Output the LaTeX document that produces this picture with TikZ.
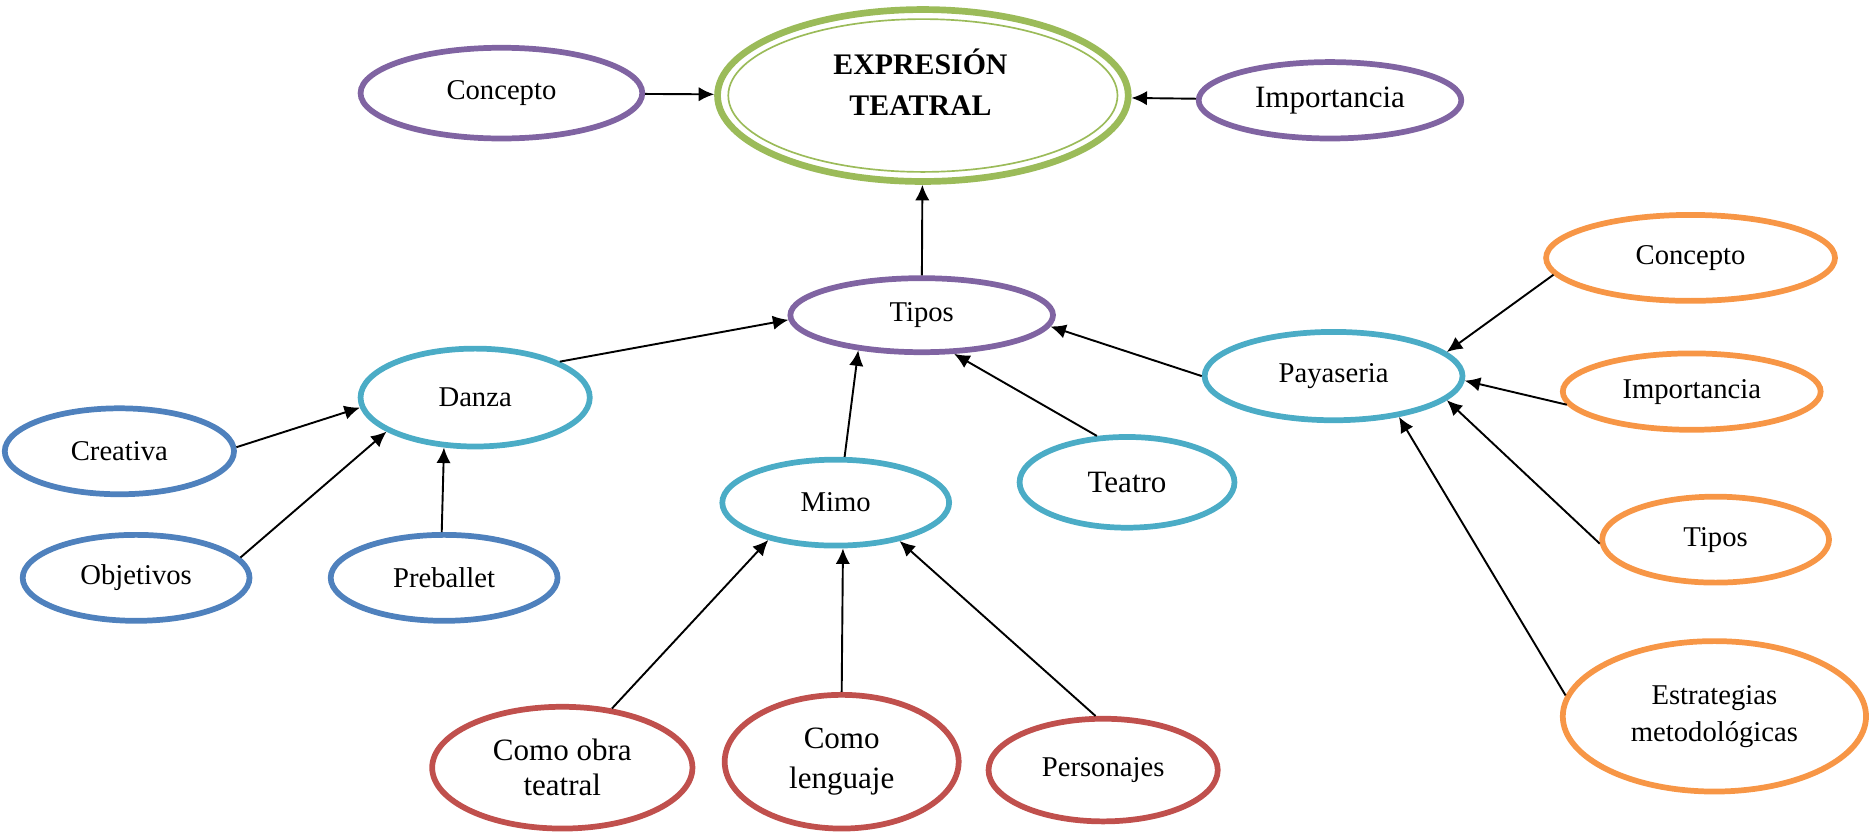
\documentclass[tikz,border=0pt]{standalone}
\usepackage{fontspec}
\setmainfont{Liberation Serif}
\usetikzlibrary{arrows.meta,shapes.geometric}
\definecolor{verde}{HTML}{9BBB59}
\definecolor{morado}{HTML}{8064A2}
\definecolor{turquesa}{HTML}{4BACC6}
\definecolor{azul}{HTML}{4F81BD}
\definecolor{rojo}{HTML}{C0504D}
\definecolor{naranja}{HTML}{F79646}

\begin{document}
\begin{tikzpicture}[x=0.5pt, y=-0.5pt,
	globo/.style={ellipse, draw, line width=2.4pt, inner sep=0pt, align=center, font=\fontsize{12}{15}\selectfont},
	flecha/.style={-{Latex[length=6.5pt,width=6pt]}, line width=0.8pt, black}]
			%%%%% START %%%%%
			
			\useasboundingbox (0,0) rectangle (1568,697);
			
			\node[globo, draw=verde, line width=2.8pt, minimum width=172pt, minimum height=72pt] (expr) at (773,80) {};
			\draw[verde, line width=0.7pt] (expr.center) ellipse (163 and 64);
			\node[align=center, font=\bfseries\fontsize{12.5}{17}\selectfont] (exprtexto) at (771,69) {EXPRESIÓN\\TEATRAL};
			
			\node[globo, draw=morado, minimum width=118pt, minimum height=38pt] (conc1) at (420,78) {Concepto};
			\node[globo, draw=morado, minimum width=110pt, minimum height=32pt, font=\fontsize{13}{15}\selectfont] (imp1) at (1114,84) {Importancia};
			\node[globo, draw=morado, minimum width=110pt, minimum height=31pt] (tipos) at (772,264) {Tipos};
			
			\node[globo, draw=turquesa, minimum width=96pt, minimum height=41pt] (danza) at (398,333) {Danza};
			\node[globo, draw=turquesa, minimum width=108pt, minimum height=37pt] (paya) at (1117,315) {Payaseria};
			\node[globo, draw=turquesa, minimum width=95pt, minimum height=36pt] (mimo) at (700,421) {Mimo};
			\node[globo, draw=turquesa, minimum width=90pt, minimum height=38pt, font=\fontsize{13}{15}\selectfont] (teatro) at (944,404) {Teatro};
			
			\node[globo, draw=azul, minimum width=96pt, minimum height=36pt] (creativa) at (100,378) {Creativa};
			\node[globo, draw=azul, minimum width=95pt, minimum height=36pt] (objetivos) at (114,484) {Objetivos};
			\node[globo, draw=azul, minimum width=95pt, minimum height=36pt] (preballet) at (372,484) {Preballet};
			
			\node[globo, draw=rojo, minimum width=109pt, minimum height=51pt, font=\fontsize{13}{14.5}\selectfont] (obra) at (471,643) {Como obra\\teatral};
			\node[globo, draw=rojo, minimum width=98pt, minimum height=56pt, font=\fontsize{13}{16.5}\selectfont] (lenguaje) at (705,638) {Como\\lenguaje};
			\node[globo, draw=rojo, minimum width=96pt, minimum height=43pt] (personajes) at (924,645) {Personajes};
			
			\node[globo, draw=naranja, minimum width=121pt, minimum height=36pt] (conc2) at (1416,216) {Concepto};
			\node[globo, draw=naranja, minimum width=108pt, minimum height=32pt] (imp2) at (1417,328) {Importancia};
			\node[globo, draw=naranja, minimum width=95pt, minimum height=36pt] (tipos2) at (1437,452) {Tipos};
			\node[globo, draw=naranja, minimum width=127pt, minimum height=63pt, font=\fontsize{12}{15.5}\selectfont] (estrat) at (1436,600) {Estrategias\\metodológicas};
			
			% flechas
			\draw[flecha] (conc1) -- (expr);
			\draw[flecha] (imp1) -- (expr);
			\draw[flecha] (tipos) -- (expr);
			
			\draw[flecha] (danza.23) -- (tipos.182);
			\draw[flecha] (paya.180) -- (tipos.-5);
			\draw[flecha] (mimo.79) -- (tipos.209);
			\draw[flecha] (teatro.123) -- (tipos.310);
			
			\draw[flecha] (creativa.2) -- (danza.185);
			\draw[flecha] (objetivos.11) -- (danza.201);
			\draw[flecha] (preballet.93) -- (danza.238);
			
			\draw[flecha] (obra.50) -- (mimo.209);
			\draw[flecha] (lenguaje.90) -- (mimo.279);
			\draw[flecha] (personajes.98) -- (mimo.329);
			
			\draw[flecha] (conc2.187) -- (paya.12);
			\draw[flecha] (imp2.186) -- (paya.-2);
			\draw[flecha] (tipos2.182) -- (paya.-12);
			\draw[flecha] (estrat.172) -- (paya.-32);
			
			%%%%% END %%%%%
\end{tikzpicture}
\end{document}
